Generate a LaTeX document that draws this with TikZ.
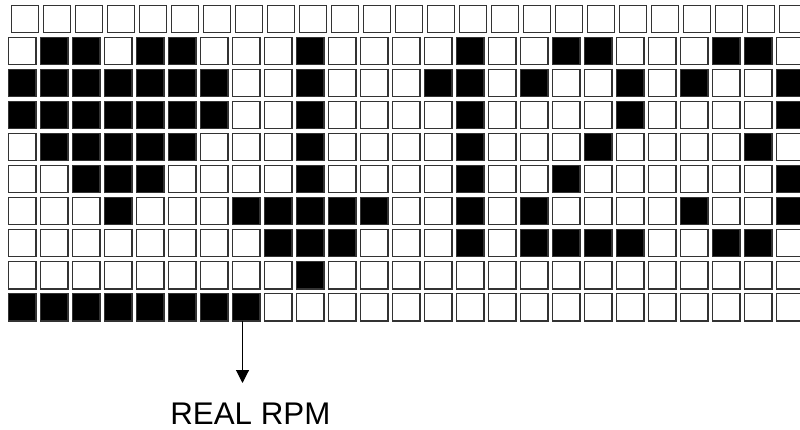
\documentclass[tikz,border=0pt]{standalone}
\usepackage{fontspec}
\setmainfont{Liberation Sans}
\usetikzlibrary{arrows.meta}
\tikzset{
  cell/.style={draw=black!80, line width=1.2pt, fill=white, rectangle, inner sep=0pt, outer sep=0pt, minimum width=27.3pt, minimum height=27.3pt},
  on/.style={draw=black!80, line width=1.2pt, fill=black},
  pointer/.style={line width=1.1pt, -{Triangle[width=13pt,length=13pt]}},
  lbl/.style={font=\fontsize{31.3pt}{36pt}\selectfont, inner sep=0pt, anchor=base}
}
\begin{document}
\begin{tikzpicture}[x=1pt,y=-1pt]
\clip (0,0) rectangle (800,430);
\fill[white] (0,0) rectangle (800,430);
% grid of cells
\foreach \c in {0,...,24}{
  \node[cell] (s-0-\c) at ({8+2.5+32*\c+14.25},{5+14.25}) {};
}
\foreach \r in {1,...,9}{
  \foreach \c in {0,...,24}{
    \node[cell] (s-\r-\c) at ({8+32*\c+14.25},{5+32*\r+14.25}) {};
  }
}
% black cells
\foreach \c in {1,2,4,5,9,14,17,18,22,23}
  \path[on] (s-1-\c.south west) rectangle (s-1-\c.north east);
\foreach \c in {0,1,2,3,4,5,6,9,13,14,16,19,21,24}
  \path[on] (s-2-\c.south west) rectangle (s-2-\c.north east);
\foreach \c in {0,1,2,3,4,5,6,9,14,19,24}
  \path[on] (s-3-\c.south west) rectangle (s-3-\c.north east);
\foreach \c in {1,2,3,4,5,9,14,18,23}
  \path[on] (s-4-\c.south west) rectangle (s-4-\c.north east);
\foreach \c in {2,3,4,9,14,17,24}
  \path[on] (s-5-\c.south west) rectangle (s-5-\c.north east);
\foreach \c in {3,7,8,9,10,11,14,16,21,24}
  \path[on] (s-6-\c.south west) rectangle (s-6-\c.north east);
\foreach \c in {8,9,10,14,16,17,18,19,22,23}
  \path[on] (s-7-\c.south west) rectangle (s-7-\c.north east);
\foreach \c in {9}
  \path[on] (s-8-\c.south west) rectangle (s-8-\c.north east);
\foreach \c in {0,...,7}
  \path[on] (s-9-\c.south west) rectangle (s-9-\c.north east);
% pointer and label
\coordinate (tip) at (242.5,383);
\draw[pointer] (s-9-7.south -| tip) -- (tip);
\node[lbl] (real) at (250.4,424.4) {REAL RPM};
\end{tikzpicture}
\end{document}
